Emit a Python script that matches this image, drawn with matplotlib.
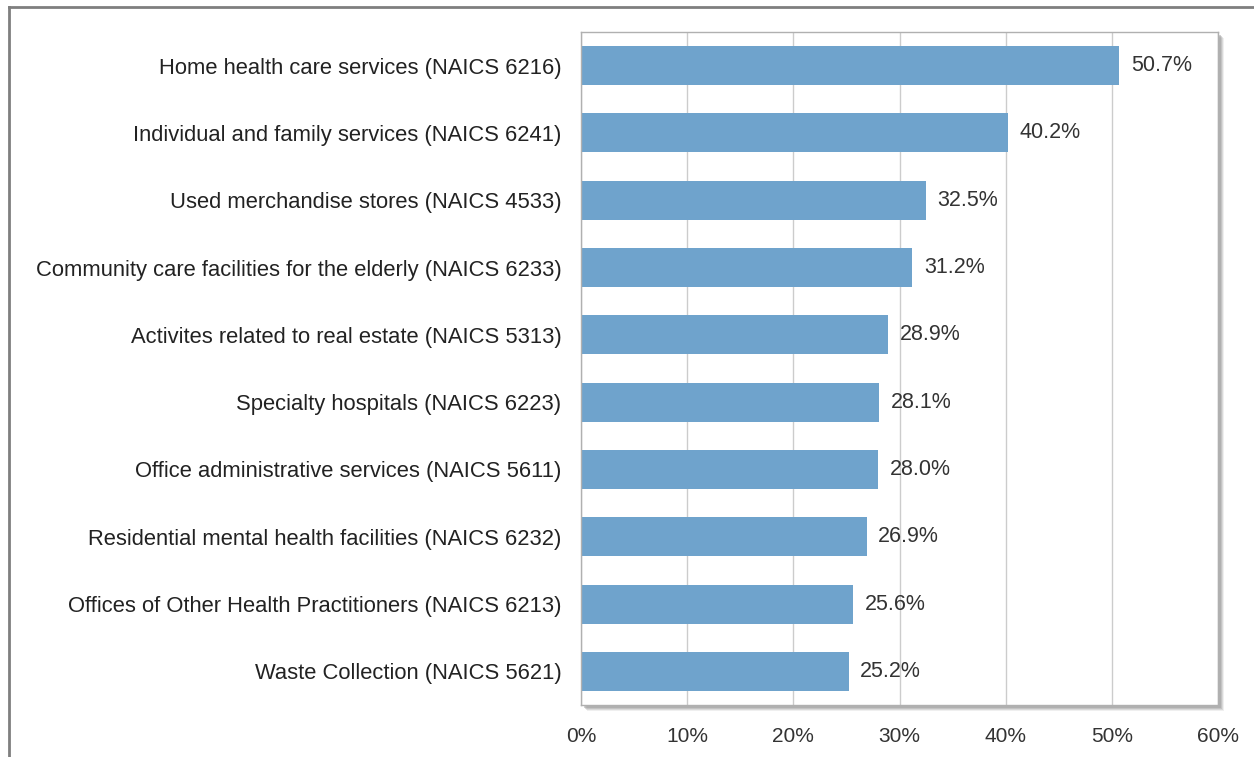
import matplotlib
matplotlib.use("Agg")
import matplotlib.pyplot as plt
from matplotlib.patches import Rectangle
from matplotlib.lines import Line2D

categories = [
    "Home health care services (NAICS 6216)",
    "Individual and family services (NAICS 6241)",
    "Used merchandise stores (NAICS 4533)",
    "Community care facilities for the elderly (NAICS 6233)",
    "Activites related to real estate (NAICS 5313)",
    "Specialty hospitals (NAICS 6223)",
    "Office administrative services (NAICS 5611)",
    "Residential mental health facilities (NAICS 6232)",
    "Offices of Other Health Practitioners (NAICS 6213)",
    "Waste Collection (NAICS 5621)",
]
values = [50.7, 40.2, 32.5, 31.2, 28.9, 28.1, 28.0, 26.9, 25.6, 25.2]
xticks = [0, 10, 20, 30, 40, 50, 60]
xtick_labels = ["0%", "10%", "20%", "30%", "40%", "50%", "60%"]

plt.rcParams['font.family'] = ['Liberation Sans', 'DejaVu Sans']

W, H = 1254, 757
fig = plt.figure(figsize=(W / 100, H / 100), dpi=100)

left, right, top, bottom = 581, 1218, 32, 705
ax = fig.add_axes([left / W, 1 - bottom / H, (right - left) / W, (bottom - top) / H])

# drop shadow behind axes
for off, alpha in [(6, 0.15), (5, 0.25), (4, 0.35), (3, 0.45)]:
    fig.patches.append(Rectangle(((left + off) / W, 1 - (bottom + off) / H),
                                 (right - left) / W, (bottom - top) / H,
                                 transform=fig.transFigure, facecolor="#9a9a9a",
                                 edgecolor="none", alpha=alpha, zorder=0))

# outer frame: top and left lines
fig.add_artist(Line2D([8.5 / W, 1.0], [1 - 6.5 / H, 1 - 6.5 / H], transform=fig.transFigure,
                      color="#7f7f7f", lw=2))
fig.add_artist(Line2D([8.5 / W, 8.5 / W], [0, 1 - 6.5 / H], transform=fig.transFigure,
                      color="#7f7f7f", lw=2))

y = list(range(len(categories)))
ax.barh(y, values, height=0.58, color="#6fa3cc", zorder=2)
for yi, v in zip(y, values):
    ax.text(v + 1.1, yi, f"{v:.1f}%", va="center", ha="left", fontsize=15.5,
            color="#333333", zorder=3)

ax.set_xlim(0, 60)
ax.set_ylim(len(categories) - 0.5, -0.5)
ax.set_yticks(y)
ax.set_yticklabels(categories, fontsize=15.8, color="#222222")
ax.set_xticks(xticks)
ax.set_xticklabels(xtick_labels, fontsize=15, color="#333333")
ax.tick_params(axis="both", length=0)
ax.tick_params(axis="y", pad=14)
ax.tick_params(axis="x", pad=16)
ax.grid(axis="x", color="#cccccc", lw=1, zorder=0)
ax.set_axisbelow(True)
for s in ax.spines.values():
    s.set_color("#b0b0b0")
    s.set_linewidth(1)
ax.set_facecolor("white")
ax.set_zorder(1)

fig.savefig("out.png", dpi=100)
